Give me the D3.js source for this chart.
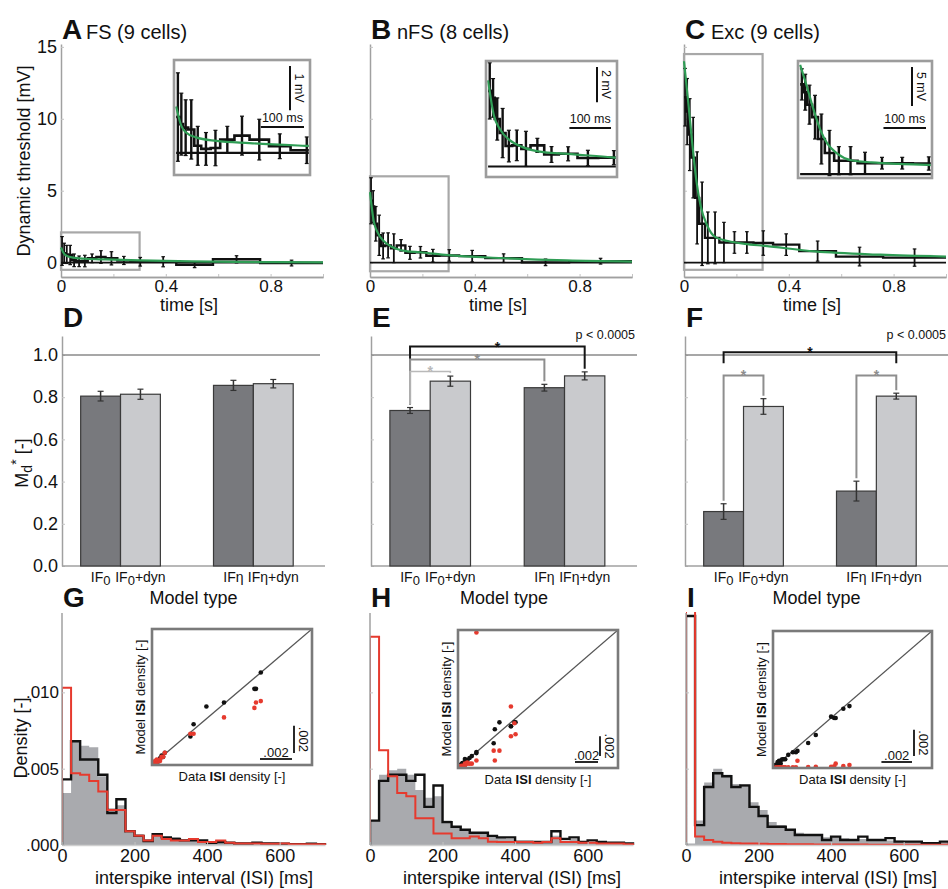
<!DOCTYPE html>
<html><head><meta charset="utf-8">
<script src="https://cdn.jsdelivr.net/npm/d3@7"></script>
<style>
body{margin:0;background:#fff;}
svg text{font-family:"Liberation Sans",Arial,Helvetica,sans-serif;}
</style></head><body>
<script>
// ---------------- DATA ----------------
// Row 1: dynamic threshold (mV) vs time (s), binned
const tBinEdges = [0, .008, .016, .028, .042, .058, .080, .102, .135, .170, .215, .265, .340, .440, .580, .760, 1.0];
const thrFS  = [.81, .65, .57, .53, .16, .09, .11, .30, .39, .30, .15, .06, .06, -.15, .23, -.03];
const errFS  = [1.0, .70, .63, .67, .44, .37, .40, .30, .44, .46, .28, .30, .35, .20, .25, .20];
const thrNFS = [4.3, 3.9, 2.7, 1.9, 1.16, 1.2, 1.0, 1.2, .68, .72, .48, .50, .45, .31, .02, .10];
const errNFS = [1.6, 1.1, 1.2, 1.4, .90, .87, 1.0, .40, .45, .40, .44, .40, .40, .30, .23, .20];
const thrExc = [11.5, 10.5, 8.9, 7.3, 4.5, 2.7, 1.72, 1.72, 1.4, 1.4, 1.4, 1.36, 1.25, .80, .42, .35];
const errExc = [2.0, 2.3, 2.5, 2.8, 3.2, 2.9, 1.8, 1.8, 1.4, .75, .75, .85, .75, .70, .65, .60];
// fitted curves (t [s], mV)
const fitFS  = [[0,1.05],[.012,.61],[.023,.46],[.046,.35],[.093,.27],[.17,.22],[.3,.16],[.5,.09],[.75,.04],[1,.02]];
const fitNFS = [[0,4.9],[.014,2.9],[.029,2.1],[.052,1.5],[.083,1.1],[.137,.8],[.191,.72],[.298,.52],[.5,.32],[.75,.15],[1,.07]];
const fitExc = [[0,14.0],[.016,11.2],[.032,8.2],[.048,5.6],[.064,3.9],[.088,2.6],[.12,1.77],[.168,1.5],[.232,1.3],[.31,1.16],[.5,.78],[.75,.55],[1,.42]];
const zoomWinFS = [-0.5, 2.1], zoomWinNFS = [-0.6, 6.0], zoomWinExc = [-0.5, 14.5];
const zoomWinT = [0, 0.3];
const scaleBarMv = [1, 2, 5];
const timeTicks = [0, 0.4, 0.8];
const timeMinorTicks = [0.2, 0.6, 1.0];
const mvTicks = [0, 5, 10, 15];

// Row 2: Md* per model type
const modelNames = ["IF0", "IF0+dyn", "IFη", "IFη+dyn"];
const mdFS   = [.805, .814, .856, .864], mdErrFS  = [.023, .024, .024, .020];
const mdNFS  = [.737, .876, .845, .901], mdErrNFS = [.014, .024, .016, .019];
const mdExc  = [.258, .756, .355, .805], mdErrExc = [.037, .037, .047, .014];
// significance brackets: [from, to, level, legBottom (null = bar top), tone]
const sigNFS = [[0,3,1.04,null,"k"],[0,2,0.979,null,"m"],[0,1,0.922,null,"l"]];
const sigExc = [[0,3,1.013,0.961,"k"],[0,1,0.903,null,"m"],[2,3,0.903,null,"m"]];
const mdTicks = [0, .2, .4, .6, .8, 1.0];

// Row 3: ISI histograms (25 ms bins)
const isiEdges = [0,25,50,75,100,125,150,175,200,225,250,275,300,325,350,375,400,425,450,475,500,525,550,575,600,625,650,675,700,725];
const dataFS  = [.0034,.0068,.0065,.0064,.0045,.0024,.0026,.0008,.0007,.0004,.0006,.0005,.0005,.00035,.0003,.0003,.0002,.0002,.0002,.00015,.0001,.0001,.00015,.0001,.0001,.00008,.00005,.00005,.00005];
const dynFS   = [.0043,.0068,.0056,.0056,.0046,.0021,.0030,.0009,.0006,.00026,.0007,.0005,.0004,.0003,.0003,.0003,.00015,.0002,.00015,.0001,.0001,.00015,.0001,.0001,.00008,.00005,.00005,.00008,.00005];
const if0FS   = [.0103,.0047,.0046,.0042,.0035,.0023,.0023,.0009,.0006,.0003,.0006,.0004,.0003,.0003,.0004,.0002,.0002,.0003,.00015,.0001,.0001,.0001,.00008,.00008,.0001,.00005,.00005,.00005,.00005];
const dataNFS = [.0016,.0046,.0049,.0050,.0046,.0036,.0031,.0032,.0016,.0012,.0010,.0008,.0008,.0006,.0005,.0004,.0003,.0003,.00025,.0002,.0006,.0003,.0004,.0002,.0002,.00015,.00015,.0001,.0001];
const dynNFS  = [.0016,.0042,.0046,.0046,.0042,.0046,.0025,.0039,.0015,.0012,.0010,.0008,.0008,.0006,.0005,.0005,.0002,.0002,.0002,.0002,.0009,.0004,.0005,.0002,.0003,.0002,.00015,.00015,.0001];
const if0NFS  = [.01365,.0062,.0045,.0034,.0032,.00175,.00175,.00076,.00076,.00044,.00044,.00055,.00044,.00022,.0002,.0002,.0002,.0002,.00015,.0002,.00044,.0002,.0002,.00015,.00015,.0001,.0001,.0001,.00005];
const dataExc = [.0001,.0016,.0041,.0050,.0046,.0040,.0038,.0028,.0023,.0015,.0013,.0010,.0008,.0007,.0006,.0005,.0005,.00045,.0004,.0004,.00035,.00035,.0003,.0003,.00025,.0002,.0002,.00015,.00015];
const dynExc  = [.0150,.0013,.0038,.0047,.0045,.0038,.0039,.0025,.0019,.0012,.0012,.0010,.00066,.00066,.00066,.00033,.00055,.00033,.00033,.00055,.00033,.00033,.00045,.00022,.00022,.00022,.00011,.00011,.00022];
const if0Exc  = [.032,.00055,.00033,.00022,.00015,.00012,.0001,.0001,.00008,.00006,.00006,.00005,.00005,.00005,.00004,.00004,.00004,.00003,.00003,.00003,.00002,.00002,.00002,.00002,.00002,.00002,.00002,.00002,.00002];
const isiTicks = [0, 200, 400, 600];
const densTicks = [0, .005, .010];
const scatterMax = [0.010, 0.0139, 0.0104];

// ---------------- DRAWING ----------------
const svg = d3.select("body").append("svg").attr("width", 948).attr("height", 889);
const defs = svg.append("defs");
let clipN = 0;
function clip(x, y, w, h) {
  const id = "clip" + (clipN++);
  defs.append("clipPath").attr("id", id).append("rect").attr("x", x).attr("y", y).attr("width", w).attr("height", h);
  return `url(#${id})`;
}
const AXC = "#a0a0a0";
function styleAxis(a, fs) {
  a.attr("font-family", null).attr("font-size", fs);
  a.select(".domain").attr("stroke", AXC).attr("stroke-width", 1.5);
  a.selectAll(".tick line").attr("stroke", "#c4c4c4").attr("stroke-width", 1);
  a.selectAll(".tick text").attr("fill", "#111");
}
function txt(g, x, y, s, o = {}) {
  const t = g.append("text").attr("x", x).attr("y", y).text(s)
    .attr("font-size", o.fs || 18).attr("fill", o.fill || "#111")
    .attr("text-anchor", o.anchor || "start");
  if (o.bold) t.attr("font-weight", "bold");
  return t;
}
function vtxt(g, cx, cy, rot, o = {}) {
  return g.append("text").attr("transform", `translate(${cx},${cy}) rotate(${rot})`)
    .attr("text-anchor", "middle").attr("dy", o.dy || "0.35em")
    .attr("font-size", o.fs || 18).attr("fill", o.fill || "#111");
}
function letter(x, y, s) { txt(svg, x, y, s, {fs: 28, bold: true}); }

// ===== Row 1 =====
const topPanels = [
  {id: "A", title: "FS (9 cells)", vals: thrFS, errs: errFS, fit: fitFS, zoom: zoomWinFS, bar: scaleBarMv[0], x0: 61, titleX: 86, box: [174, 60, 310, 175], yLab: true},
  {id: "B", title: "nFS (8 cells)", vals: thrNFS, errs: errNFS, fit: fitNFS, zoom: zoomWinNFS, bar: scaleBarMv[1], x0: 370, titleX: 397, box: [486, 61, 617, 177], yLab: false},
  {id: "C", title: "Exc (9 cells)", vals: thrExc, errs: errExc, fit: fitExc, zoom: zoomWinExc, bar: scaleBarMv[2], x0: 684, titleX: 711, box: [798, 61, 932, 178], yLab: false}
];
const centers = tBinEdges.slice(0, -1).map((e, i) => (e + tBinEdges[i + 1]) / 2);
function stepPoints(edges, vals) {
  const pts = vals.map((v, i) => [edges[i], v]);
  pts.push([edges[edges.length - 1], vals[vals.length - 1]]);
  return pts;
}
function drawThreshold(g, x, y, p, sw, ew, cap) {
  g.append("line").attr("x1", x(0)).attr("x2", x(1)).attr("y1", y(0)).attr("y2", y(0))
    .attr("stroke", "#111").attr("stroke-width", sw * 0.8);
  g.append("path").attr("d", d3.line().x(d => x(d[0])).y(d => y(d[1])).curve(d3.curveStepAfter)(stepPoints(tBinEdges, p.vals)))
    .attr("fill", "none").attr("stroke", "#111").attr("stroke-width", sw);
  const eb = g.append("g").attr("stroke", "#111");
  p.vals.forEach((v, i) => {
    const cx = x(centers[i]), e = p.errs[i];
    eb.append("line").attr("x1", cx).attr("x2", cx).attr("y1", y(v - e)).attr("y2", y(v + e)).attr("stroke-width", ew);
    [v - e, v + e].forEach(w => eb.append("line").attr("x1", cx - cap).attr("x2", cx + cap).attr("y1", y(w)).attr("y2", y(w)).attr("stroke-width", 1.2));
  });
  g.append("path").attr("d", d3.line().x(d => x(d[0])).y(d => y(d[1])).curve(d3.curveMonotoneX)(p.fit))
    .attr("fill", "none").attr("stroke", "#2f9d55").attr("stroke-width", 2.2);
}
topPanels.forEach(p => {
  const x = d3.scaleLinear().domain([0, 1]).range([p.x0, p.x0 + 262]);
  const y = d3.scaleLinear().domain([-1, 15.2]).range([277, 44]);
  const g = svg.append("g");
  const axm = g.append("g").attr("transform", "translate(0,277)")
    .call(d3.axisBottom(x).tickValues(timeMinorTicks).tickFormat(() => "").tickSizeInner(-3).tickSizeOuter(0));
  styleAxis(axm, 17);
  const ax = g.append("g").attr("transform", "translate(0,277)")
    .call(d3.axisBottom(x).tickValues(timeTicks).tickFormat(d3.format("")).tickSizeInner(-3).tickSizeOuter(0).tickPadding(3));
  styleAxis(ax, 17);
  const ay = g.append("g").attr("transform", `translate(${p.x0},0)`)
    .call(d3.axisLeft(y).tickValues(mvTicks).tickFormat(p.yLab ? d3.format("d") : () => "").tickSizeInner(-3).tickSizeOuter(0).tickPadding(4));
  styleAxis(ay, 18);
  txt(g, (x(0) + x(1)) / 2 - 3, 311, "time [s]", {anchor: "middle", fs: 18});
  letter(p.x0 + 1, 39, p.id);
  txt(svg, p.titleX, 39, p.title, {fs: 20});
  // zoom window outline
  g.append("rect").attr("x", x(zoomWinT[0])).attr("y", y(p.zoom[1]))
    .attr("width", x(zoomWinT[1]) - x(zoomWinT[0])).attr("height", y(p.zoom[0]) - y(p.zoom[1]))
    .attr("fill", "none").attr("stroke", "#a8a8a8").attr("stroke-width", 2.2);
  drawThreshold(g, x, y, p, 2.4, 1.8, 1.8);
  // inset
  const [bx0, by0, bx1, by1] = p.box;
  const xi = d3.scaleLinear().domain([-0.005, 0.31]).range([bx0, bx1]);
  const yi = d3.scaleLinear().domain(p.zoom).range([by1, by0]);
  const gi = svg.append("g");
  gi.append("rect").attr("x", bx0).attr("y", by0).attr("width", bx1 - bx0).attr("height", by1 - by0).attr("fill", "#fff");
  const gc = gi.append("g").attr("clip-path", clip(bx0, by0, bx1 - bx0, by1 - by0));
  drawThreshold(gc, xi, yi, p, 2.6, 2.4, 2);
  const vbx = bx1 - 20, vlen = yi(0) - yi(p.bar), vby = by0 + 6;
  gi.append("line").attr("x1", vbx).attr("x2", vbx).attr("y1", vby).attr("y2", vby + vlen).attr("stroke", "#111").attr("stroke-width", 2);
  vtxt(gi, vbx + 3, vby + vlen / 2, 90, {fs: 12.5, dy: "-0.15em"}).text(p.bar + " mV");
  const hlen = xi(0.1) - xi(0), hbx1 = bx1 - 6, hby = by0 + 67;
  gi.append("line").attr("x1", hbx1 - hlen).attr("x2", hbx1).attr("y1", hby).attr("y2", hby).attr("stroke", "#111").attr("stroke-width", 2);
  txt(gi, hbx1 - hlen / 2, hby - 5, "100 ms", {anchor: "middle", fs: 12.5});
  gi.append("rect").attr("x", bx0).attr("y", by0).attr("width", bx1 - bx0).attr("height", by1 - by0)
    .attr("fill", "none").attr("stroke", "#9c9c9c").attr("stroke-width", 2.6);
});
vtxt(svg, 24, 161, -90, {fs: 18}).text("Dynamic threshold [mV]");

// ===== Row 2 =====
const midPanels = [
  {id: "D", vals: mdFS, errs: mdErrFS, sig: [], r: [62, 325], lineEnd: 320, yLab: true, p: false},
  {id: "E", vals: mdNFS, errs: mdErrNFS, sig: sigNFS, r: [371, 637], lineEnd: 637, yLab: false, p: true},
  {id: "F", vals: mdExc, errs: mdErrExc, sig: sigExc, r: [685, 948], lineEnd: 948, yLab: false, p: true}
];
const toneColor = {k: "#151515", m: "#8e8e8e", l: "#b9b9b9"};
midPanels.forEach(p => {
  const y = d3.scaleLinear().domain([0, 1.09]).range([566, 336]);
  const outer = d3.scaleBand().domain([modelNames[0], modelNames[2]]).range(p.r).paddingInner(0.4).paddingOuter(0.19).align(0.37);
  const inner = d3.scaleBand().domain(["base", "dyn"]).range([0, outer.bandwidth()]);
  const bx = i => outer(modelNames[i < 2 ? 0 : 2]) + inner(i % 2 ? "dyn" : "base");
  const bc = i => bx(i) + inner.bandwidth() / 2;
  const g = svg.append("g");
  const ay = g.append("g").attr("transform", `translate(${p.r[0]},0)`)
    .call(d3.axisLeft(y).tickValues(mdTicks).tickFormat(p.yLab ? d3.format(".1f") : () => "").tickSizeInner(-3).tickSizeOuter(0).tickPadding(4));
  styleAxis(ay, 18);
  g.append("line").attr("x1", p.r[0]).attr("x2", p.r[1]).attr("y1", y(0)).attr("y2", y(0)).attr("stroke", AXC).attr("stroke-width", 1.5);
  g.append("line").attr("x1", p.r[0]).attr("x2", p.lineEnd).attr("y1", y(1)).attr("y2", y(1)).attr("stroke", "#8a8a8a").attr("stroke-width", 1.5);
  p.vals.forEach((v, i) => {
    g.append("rect").attr("x", bx(i)).attr("y", y(v)).attr("width", inner.bandwidth()).attr("height", y(0) - y(v))
      .attr("fill", i % 2 ? "#c9cacd" : "#78797d").attr("stroke", "#3a3a3a").attr("stroke-width", 1.2);
    const e = p.errs[i], c = bc(i);
    g.append("line").attr("x1", c).attr("x2", c).attr("y1", y(v - e)).attr("y2", y(v + e)).attr("stroke", "#333").attr("stroke-width", 1.5);
    [v - e, v + e].forEach(w => g.append("line").attr("x1", c - 3).attr("x2", c + 3).attr("y1", y(w)).attr("y2", y(w)).attr("stroke", "#333").attr("stroke-width", 1.2));
    const name = modelNames[i];
    const t = g.append("text").attr("x", c).attr("y", 582).attr("text-anchor", "middle").attr("font-size", 14).attr("fill", "#111");
    if (name.startsWith("IF0")) {
      t.append("tspan").text("IF");
      t.append("tspan").attr("dy", 3).attr("font-size", 13).text("0");
      t.append("tspan").attr("dy", -3).text(name.slice(3));
    } else t.text(name);
  });
  p.sig.forEach(s => {
    const [a, b, lev, legB, tone] = s;
    const col = toneColor[tone], yl = y(lev);
    const legEnd = i => legB != null ? y(legB) : y(p.vals[i] + p.errs[i]) - 3;
    g.append("path").attr("d", `M${bc(a)},${legEnd(a)}V${yl}H${bc(b)}V${legEnd(b)}`)
      .attr("fill", "none").attr("stroke", col).attr("stroke-width", tone === "l" ? 1.6 : 2);
    txt(g, (bc(a) + bc(b)) / 2, yl + 5, "*", {anchor: "middle", fs: 14, fill: col, bold: true});
  });
  if (p.p) txt(g, p.r[1] - 2, 339, "p < 0.0005", {anchor: "end", fs: 12.5});
  txt(g, (p.r[0] + p.r[1]) / 2, 604, "Model type", {anchor: "middle", fs: 18});
  letter(p.r[0] + 1, 327, p.id);
});
{
  const t = vtxt(svg, 22, 463, -90, {fs: 18});
  t.append("tspan").text("M");
  t.append("tspan").attr("dy", 4).attr("font-size", 14).text("d");
  t.append("tspan").attr("dy", -11).attr("font-size", 14).text("*");
  t.append("tspan").attr("dy", 7).text(" [-]");
}

// ===== Row 3 =====
const botPanels = [
  {id: "G", data: dataFS, dyn: dynFS, if0: if0FS, x0: 62, yLab: true, box: [152, 629, 312, 765], smax: scatterMax[0]},
  {id: "H", data: dataNFS, dyn: dynNFS, if0: if0NFS, x0: 370, yLab: false, box: [458, 630, 618, 768], smax: scatterMax[1]},
  {id: "I", data: dataExc, dyn: dynExc, if0: if0Exc, x0: 686, yLab: false, box: [773, 631, 932, 768], smax: scatterMax[2]}
];
const RED = "#e63a2e";
botPanels.forEach(p => {
  const x = d3.scaleLinear().domain([0, 725]).range([p.x0, p.x0 + 263]);
  const y = d3.scaleLinear().domain([0, 0.0152]).range([845, 613]);
  const g = svg.append("g");
  const gc = g.append("g").attr("clip-path", clip(p.x0, 612, 270, 240));
  const pts = v => stepPoints(isiEdges, v);
  gc.append("path").attr("d", d3.area().x(d => x(d[0])).y0(y(0)).y1(d => y(d[1])).curve(d3.curveStepAfter)(pts(p.data)))
    .attr("fill", "#a9aaae");
  const outline = v => d3.line().x(d => x(d[0])).y(d => y(d[1])).curve(d3.curveStepAfter)([[isiEdges[0], 0], ...pts(v), [isiEdges[isiEdges.length - 1], 0]]);
  gc.append("path").attr("d", outline(p.dyn)).attr("fill", "none").attr("stroke", "#111").attr("stroke-width", 2.4);
  gc.append("path").attr("d", outline(p.if0)).attr("fill", "none").attr("stroke", RED).attr("stroke-width", 2);
  const ax = g.append("g").attr("transform", "translate(0,845)")
    .call(d3.axisBottom(x).tickValues(isiTicks).tickSizeInner(-3).tickSizeOuter(0).tickPadding(4));
  styleAxis(ax, 18);
  ax.select(".domain").attr("stroke", "#cfcfcf");
  const ay = g.append("g").attr("transform", `translate(${p.x0},0)`)
    .call(d3.axisLeft(y).tickValues(densTicks).tickFormat(p.yLab ? (d => d3.format(".3f")(d).replace(/^0/, "")) : () => "").tickSizeInner(-3).tickSizeOuter(0).tickPadding(3));
  styleAxis(ay, 17);
  ay.select(".domain").attr("d", `M0,613V845`);
  txt(g, p.x0 + 142, 884, "interspike interval (ISI) [ms]", {anchor: "middle", fs: 18});
  letter(p.x0 + 1, 607, p.id);
  // scatter inset
  const [bx0, by0, bx1, by1] = p.box;
  const xs = d3.scaleLinear().domain([0, p.smax]).range([bx0, bx1]);
  const ys = d3.scaleLinear().domain([0, p.smax]).range([by1, by0]);
  const gi = svg.append("g");
  gi.append("rect").attr("x", bx0).attr("y", by0).attr("width", bx1 - bx0).attr("height", by1 - by0).attr("fill", "#fff");
  const gic = gi.append("g").attr("clip-path", clip(bx0, by0, bx1 - bx0, by1 - by0));
  gic.append("line").attr("x1", xs(0)).attr("y1", ys(0)).attr("x2", xs(p.smax)).attr("y2", ys(p.smax)).attr("stroke", "#555").attr("stroke-width", 1.3);
  [[p.dyn, "#111"], [p.if0, RED]].forEach(([m, col]) => {
    p.data.forEach((d, i) => {
      if (d <= p.smax && m[i] <= p.smax)
        gic.append("circle").attr("cx", xs(d)).attr("cy", ys(m[i])).attr("r", 2.3).attr("fill", col);
    });
  });
  const hl = xs(0.002) - xs(0), hx1 = bx1 - 20, hy = by1 - 6;
  gi.append("line").attr("x1", hx1 - hl).attr("x2", hx1).attr("y1", hy).attr("y2", hy).attr("stroke", "#111").attr("stroke-width", 1.8);
  txt(gi, hx1 - hl / 2, hy - 2, ".002", {anchor: "middle", fs: 13});
  const vl = ys(0) - ys(0.002), vx = bx1 - 18, vy1 = by1 - 12;
  gi.append("line").attr("x1", vx).attr("x2", vx).attr("y1", vy1 - vl).attr("y2", vy1).attr("stroke", "#111").attr("stroke-width", 1.8);
  vtxt(gi, vx + 3, vy1 - vl / 2, 90, {fs: 13, dy: "-0.15em"}).text(".002");
  gi.append("rect").attr("x", bx0).attr("y", by0).attr("width", bx1 - bx0).attr("height", by1 - by0)
    .attr("fill", "none").attr("stroke", "#7a7a7a").attr("stroke-width", 2.6);
  const ml = vtxt(gi, bx0 - 12, (by0 + by1) / 2, -90, {fs: 13});
  ml.append("tspan").text("Model ");
  ml.append("tspan").attr("font-weight", "bold").text("ISI");
  ml.append("tspan").text(" density [-]");
  const dl = gi.append("text").attr("x", (bx0 + bx1) / 2).attr("y", by1 + 16).attr("text-anchor", "middle").attr("font-size", 13).attr("fill", "#111");
  dl.append("tspan").text("Data ");
  dl.append("tspan").attr("font-weight", "bold").text("ISI");
  dl.append("tspan").text(" density [-]");
});
vtxt(svg, 21, 738, -90, {fs: 18}).text("Density [-]");
</script></body></html>
